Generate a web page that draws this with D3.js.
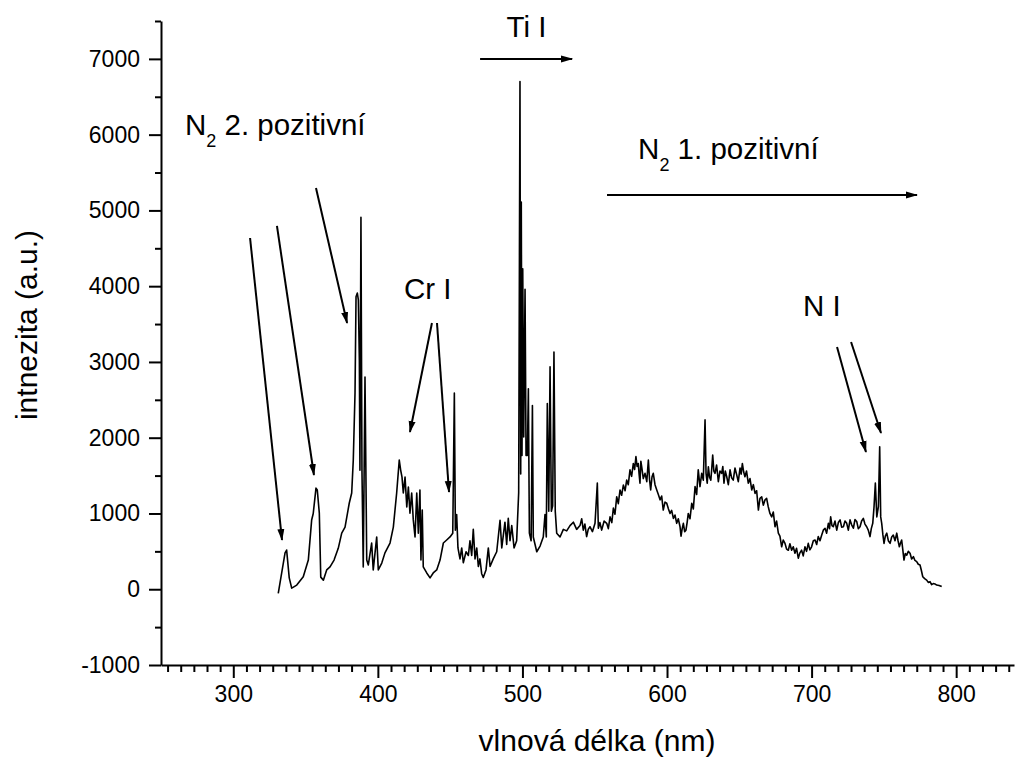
<!DOCTYPE html>
<html>
<head>
<meta charset="utf-8">
<script src="https://cdn.jsdelivr.net/npm/d3@7"></script>
<style>
  body { margin: 0; background: #fff; }
  text { font-family: "Liberation Sans", Arial, sans-serif; fill: #000; }
</style>
</head>
<body>
<div id="chart-container"></div>
<script>
// spectrum: [wavelength nm, intensity a.u.]
const spectrum = [
  [331.1, -55], [335.8, 480], [336.9, 517], [338.7, 150], [340.4, 15], [343.9, 55],
  [348.4, 165], [351.9, 385], [354.2, 913], [355.3, 1000], [357.2, 1335], [358.1, 1310],
  [359.5, 1005], [360.5, 160], [362.3, 120], [364.6, 255], [366.9, 295], [369.7, 385],
  [372.6, 540], [375.0, 740], [377.3, 820], [380.2, 1135], [381.9, 1270], [383.0, 1705],
  [384.2, 2590], [384.9, 3860], [385.8, 3910], [386.5, 3820], [387.2, 3025], [387.6, 1570],
  [388.3, 4910], [389.0, 1570], [389.9, 295], [391.1, 2800], [392.3, 385], [393.4, 320],
  [395.7, 610], [396.8, 255], [399.2, 690], [400.3, 255], [402.7, 345], [404.9, 480],
  [408.4, 610], [410.7, 820], [413.0, 1270], [414.8, 1705], [415.8, 1570], [416.7, 1480],
  [417.6, 1270], [418.8, 1480], [420.0, 1085], [421.1, 1350], [422.2, 1005], [423.4, 1270],
  [424.5, 915], [425.7, 690], [426.9, 1270], [428.0, 740], [429.1, 1310], [429.8, 385],
  [430.7, 1045], [431.4, 295], [433.8, 215], [436.1, 150], [438.3, 215], [440.7, 255],
  [443.0, 385], [445.3, 610], [447.6, 650], [449.9, 690], [451.8, 740], [452.9, 2590],
  [453.6, 780], [454.5, 985], [455.4, 545], [456.8, 400], [458.0, 545], [459.1, 350],
  [461.0, 495], [462.6, 445], [463.7, 640], [464.9, 445], [466.0, 790], [467.2, 400],
  [468.4, 545], [469.5, 300], [470.6, 400], [471.8, 205], [472.9, 155], [474.8, 255],
  [476.4, 545], [477.6, 300], [479.8, 400], [482.2, 495], [484.5, 910], [485.7, 545],
  [487.9, 885], [489.1, 590], [490.2, 935], [491.4, 640], [492.6, 840], [494.2, 545],
  [496.0, 640], [497.4, 1275], [498.3, 6700], [498.8, 1520], [499.2, 5110], [499.7, 1765],
  [500.2, 4230], [500.9, 2010], [501.8, 3960], [502.5, 1765], [503.4, 1765], [504.1, 2645],
  [504.8, 740], [506.0, 640], [506.9, 2425], [507.5, 690], [509.9, 495], [512.2, 570],
  [514.4, 690], [515.6, 985], [516.5, 690], [517.2, 2450], [518.2, 1030], [519.1, 2935],
  [520.0, 1030], [520.9, 1100], [521.8, 3130], [522.7, 1030], [523.7, 740], [526.0, 690],
  [528.3, 790], [530.6, 770], [532.9, 840], [535.2, 885], [537.5, 790], [539.8, 840],
  [541.0, 930], [542.1, 780], [543.2, 860], [544.4, 695], [545.5, 790], [546.7, 825],
  [548.4, 760], [550.2, 870], [551.8, 1400], [552.5, 805], [553.6, 880], [554.8, 780],
  [556.5, 900], [558.3, 870], [559.4, 800], [560.6, 955], [561.8, 880], [562.9, 1070],
  [564.0, 990], [565.2, 1220], [566.3, 1130], [567.5, 1310], [568.6, 1240], [569.8, 1375],
  [571.0, 1300], [572.1, 1440], [573.2, 1380], [574.4, 1575], [575.5, 1490], [576.7, 1660],
  [577.6, 1580], [578.5, 1750], [579.3, 1620], [580.1, 1660], [580.7, 1520], [581.3, 1400],
  [581.9, 1690], [582.5, 1615], [583.6, 1460], [584.8, 1530], [586.0, 1420], [587.1, 1705],
  [587.9, 1450], [588.7, 1310], [589.6, 1480], [590.5, 1530], [591.7, 1380], [592.9, 1310],
  [594.0, 1250], [595.2, 1180], [596.3, 1230], [597.4, 1045], [598.6, 1150], [599.8, 1135],
  [601.0, 1060], [602.1, 1000], [603.2, 1040], [604.4, 935], [605.5, 980], [606.7, 870],
  [607.8, 930], [609.0, 825], [609.7, 700], [610.5, 800], [611.3, 870], [612.2, 760],
  [613.1, 780], [613.9, 880], [614.7, 1000], [615.9, 930], [617.1, 1135], [618.2, 1060],
  [619.4, 1355], [620.5, 1250], [621.6, 1575], [622.8, 1355], [624.0, 1530], [625.1, 1440],
  [626.3, 2235], [627.0, 1530], [627.8, 1400], [628.6, 1615], [629.4, 1480], [630.3, 1440],
  [630.9, 1580], [631.6, 1770], [632.4, 1560], [633.2, 1530], [634.3, 1640], [635.5, 1420],
  [636.6, 1560], [637.8, 1530], [638.6, 1620], [639.4, 1400], [640.3, 1560], [641.3, 1485],
  [642.4, 1380], [643.6, 1575], [644.7, 1470], [645.8, 1440], [647.0, 1600], [648.2, 1510],
  [649.3, 1420], [650.5, 1600], [651.3, 1520], [652.1, 1660], [653.0, 1550], [653.9, 1485],
  [655.0, 1560], [656.2, 1400], [657.4, 1460], [658.6, 1310], [659.7, 1380], [660.9, 1265],
  [662.0, 1300], [663.2, 1045], [664.3, 1200], [665.5, 1220], [666.6, 1110], [667.8, 1180],
  [668.9, 1200], [670.0, 1090], [671.2, 1000], [672.4, 955], [673.5, 1020], [674.7, 825],
  [675.8, 900], [677.0, 740], [678.1, 700], [679.3, 560], [680.4, 650], [681.6, 605],
  [682.7, 530], [683.9, 515], [685.0, 600], [686.2, 515], [687.3, 560], [688.5, 475],
  [689.6, 540], [690.8, 410], [691.9, 480], [693.1, 515], [694.2, 440], [695.4, 560],
  [696.5, 500], [697.7, 605], [698.8, 520], [700.0, 560], [701.2, 640], [702.4, 650],
  [703.5, 590], [704.6, 695], [705.8, 640], [707.0, 715], [708.1, 780], [709.3, 805],
  [710.4, 740], [711.6, 870], [712.4, 800], [713.2, 955], [714.1, 840], [715.0, 825],
  [716.2, 900], [717.4, 780], [718.5, 880], [719.7, 915], [720.8, 820], [722.0, 825],
  [723.1, 900], [724.3, 870], [725.4, 780], [726.6, 915], [727.7, 850], [728.9, 805],
  [730.0, 920], [731.2, 895], [732.3, 800], [733.5, 825], [734.6, 900], [735.8, 935],
  [736.9, 860], [738.1, 825], [739.2, 780], [740.4, 695], [741.3, 800], [742.3, 870],
  [743.2, 1090], [744.1, 1400], [745.1, 955], [746.2, 1090], [747.1, 1880], [747.8, 955],
  [748.5, 870], [749.3, 720], [750.1, 605], [751.0, 700], [752.0, 740], [753.1, 640],
  [754.3, 605], [755.4, 690], [756.5, 715], [757.7, 640], [758.9, 740], [759.8, 640],
  [760.7, 560], [761.5, 610], [762.3, 650], [763.1, 520], [763.9, 385], [764.8, 470],
  [765.8, 450], [766.9, 500], [768.1, 475], [769.2, 400], [770.4, 430], [771.5, 380],
  [772.7, 365], [773.8, 330], [775.0, 320], [775.9, 250], [776.9, 165], [778.2, 140],
  [779.6, 120], [780.7, 90], [781.9, 100], [783.0, 60], [784.2, 75], [785.3, 70],
  [786.5, 55], [788.2, 50], [790.0, 35]
];

const xMajorTicks = [300, 400, 500, 600, 700, 800];
const yMajorTicks = [-1000, 0, 1000, 2000, 3000, 4000, 5000, 6000, 7000];
const yMinorTicks = [-500, 500, 1500, 2500, 3500, 4500, 5500, 6500, 7500];

// text labels: [x nm, y a.u., main, subscript, rest]
const labels = [
  [266.6, 5995, "N", "2", " 2. pozitivní"],
  [580.0, 5679, "N", "2", " 1. pozitivní"],
  [489.0, 7293, "Ti I", "", ""],
  [418.0, 3831, "Cr I", "", ""],
  [694.0, 3606, "N I", "", ""]
];

// arrows: [x1, y1, x2, y2] in nm / a.u.
const arrows = [
  [311.6, 4636, 333.7, 650],
  [330.2, 4795, 355.8, 1508],
  [357.2, 5297, 378.7, 3514],
  [437.4, 3514, 422.2, 2075],
  [440.9, 3514, 449.2, 1283],
  [470.7, 7000, 534.3, 7000],
  [558.5, 5203, 772.9, 5203],
  [717.6, 3197, 737.6, 1812],
  [727.3, 3263, 748.0, 2062]
];

const margin = { top: 21, right: 5, bottom: 93, left: 161 };
const width = 1019 - margin.left - margin.right;
const height = 758 - margin.top - margin.bottom;

const x = d3.scaleLinear()
  .domain([250, 840])
  .range([0, width]);

const y = d3.scaleLinear()
  .domain([-1000, 7500])
  .range([height, 0]);

// minor ticks on x: ten per 100 nm step, as in the original
const xMinorTicks = [];
for (let m = 200; m <= 800; m += 100) {
  for (let k = 1; k <= 10; k++) {
    const v = m + k * 100 / 11;
    if (v >= 250 && v <= 840) xMinorTicks.push(v);
  }
}

const root = d3.select("#chart-container")
  .append("svg")
  .attr("width", width + margin.left + margin.right)
  .attr("height", height + margin.top + margin.bottom);

root.append("defs").append("marker")
  .attr("id", "head")
  .attr("markerUnits", "userSpaceOnUse")
  .attr("markerWidth", 12)
  .attr("markerHeight", 8)
  .attr("refX", 11)
  .attr("refY", 4)
  .attr("orient", "auto")
  .append("path")
  .attr("d", "M0,0.5 L12,4 L0,7.5 Z")
  .attr("fill", "#000");

const svg = root.append("g")
  .attr("transform", `translate(${margin.left},${margin.top})`);

function styleAxis(g) {
  g.attr("font-family", null).attr("font-size", null);
  g.selectAll(".domain").attr("stroke-width", 2);
  g.selectAll(".tick line").attr("stroke-width", 2);
  g.selectAll("text").style("font-size", "23px");
}

// x axis
svg.append("g")
  .attr("transform", `translate(0,${height})`)
  .call(d3.axisBottom(x).tickValues(xMinorTicks).tickSize(7).tickSizeOuter(0).tickFormat(""))
  .call(styleAxis)
  .call(g => g.select(".domain").remove());

svg.append("g")
  .attr("transform", `translate(0,${height})`)
  .call(d3.axisBottom(x).tickValues(xMajorTicks).tickSize(13).tickSizeOuter(0).tickPadding(8).tickFormat(d => String(d)))
  .call(styleAxis);

// y axis
svg.append("g")
  .call(d3.axisLeft(y).tickValues(yMinorTicks).tickSize(6).tickSizeOuter(0).tickFormat(""))
  .call(styleAxis)
  .call(g => g.select(".domain").remove());

svg.append("g")
  .call(d3.axisLeft(y).tickValues(yMajorTicks).tickSize(12).tickSizeOuter(0).tickPadding(9).tickFormat(d => String(d)))
  .call(styleAxis);

// spectrum
const line = d3.line()
  .x(d => x(d[0]))
  .y(d => y(d[1]));

svg.append("path")
  .datum(spectrum)
  .attr("fill", "none")
  .attr("stroke", "#000")
  .attr("stroke-width", 1.6)
  .attr("stroke-linejoin", "round")
  .attr("d", line);

// annotation arrows
svg.selectAll(".arrow")
  .data(arrows)
  .enter().append("line")
  .attr("class", "arrow")
  .attr("x1", d => x(d[0]))
  .attr("y1", d => y(d[1]))
  .attr("x2", d => x(d[2]))
  .attr("y2", d => y(d[3]))
  .attr("stroke", "#000")
  .attr("stroke-width", 2)
  .attr("marker-end", "url(#head)");

// annotation texts
const lab = svg.selectAll(".lab")
  .data(labels)
  .enter().append("text")
  .attr("class", "lab")
  .attr("x", d => x(d[0]))
  .attr("y", d => y(d[1]))
  .style("font-size", "29.5px");

lab.append("tspan").text(d => d[2]);
lab.filter(d => d[3]).append("tspan")
  .attr("dy", 12)
  .style("font-size", "18px")
  .text(d => d[3]);
lab.filter(d => d[4]).append("tspan")
  .attr("dy", -12)
  .text(d => d[4]);

// axis titles
svg.append("text")
  .attr("transform", "rotate(-90)")
  .attr("x", -(325 - margin.top))
  .attr("y", 37 - margin.left)
  .style("text-anchor", "middle")
  .style("font-size", "30px")
  .text("intnezita (a.u.)");

svg.append("text")
  .attr("x", 597 - margin.left)
  .attr("y", 751 - margin.top)
  .style("text-anchor", "middle")
  .style("font-size", "30px")
  .text("vlnová délka (nm)");
</script>
</body>
</html>
